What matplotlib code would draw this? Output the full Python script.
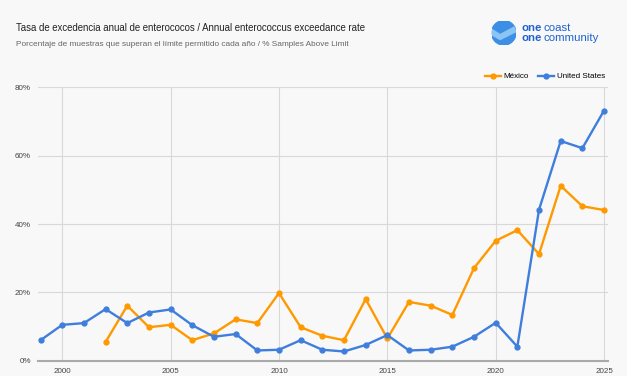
import numpy as np
import matplotlib.pyplot as plt
from matplotlib.patches import Circle, Polygon

years_us = list(range(1999, 2026))
us = [6.0, 10.5, 11.0, 15.1, 11.0, 14.1, 15.0, 10.4, 7.0, 7.8, 3.0, 3.2, 6.0,
      3.2, 2.7, 4.6, 7.5, 3.0, 3.2, 4.1, 7.0, 11.1, 4.1, 44.2, 64.3, 62.2, 73.2]

years_mx = list(range(2002, 2026))
mx = [5.5, 16.1, 9.8, 10.5, 6.0, 8.0, 12.1, 11.0, 19.8, 9.8, 7.3, 6.0, 18.0,
      6.5, 17.2, 16.1, 13.4, 27.1, 35.1, 38.2, 31.2, 51.2, 45.2, 44.1]

x_ticks = [2000, 2005, 2010, 2015, 2020, 2025]
y_ticks = [0, 20, 40, 60, 80]

orange = "#FF9900"
blue = "#3F7EDC"
bg = "#F8F8F8"

plt.rcParams["font.family"] = ["Liberation Sans", "DejaVu Sans"]

fig = plt.figure(figsize=(6.27, 3.76), dpi=100, facecolor=bg)
ax = fig.add_axes([0.0606, 0.0407, 0.909, 0.727], facecolor=bg)

ax.plot(years_mx, mx, color=orange, lw=1.7, marker="o", ms=3.5, label="México", zorder=3)
ax.plot(years_us, us, color=blue, lw=1.7, marker="o", ms=3.5, label="United States", zorder=3)

ax.set_xlim(1998.88, 2025.18)
ax.set_ylim(0, 80)
ax.set_xticks(x_ticks)
ax.set_yticks(y_ticks)
ax.set_yticklabels([f"{v}%" for v in y_ticks])
ax.grid(True, color="#D8D8D8", lw=0.8)
ax.set_axisbelow(True)
for s in ["top", "right", "left"]:
    ax.spines[s].set_visible(False)
ax.spines["bottom"].set_color("#AAAAAA")
ax.spines["bottom"].set_linewidth(1.5)
ax.tick_params(length=0, labelsize=5.8, labelcolor="#444444")
ax.tick_params(axis="x", pad=5)
ax.tick_params(axis="y", pad=5)

leg = ax.legend(loc="lower right", bbox_to_anchor=(1.005, 1.005), ncol=2, frameon=False,
                fontsize=5.8, handlelength=2.0, columnspacing=1.2, handletextpad=0.3,
                borderaxespad=0.3)

fig.text(0.0255, 0.925, "Tasa de excedencia anual de enterococos / Annual enterococcus exceedance rate",
         fontsize=6.9, color="#222222", va="center")
fig.text(0.0255, 0.882, "Porcentaje de muestras que superan el límite permitido cada año / % Samples Above Limit",
         fontsize=5.95, color="#666666", va="center")

# logo
lax = fig.add_axes([0.784, 0.880, 0.039, 0.0655])
lax.set_xlim(-1, 1)
lax.set_ylim(-1, 1)
lax.set_aspect("equal")
lax.axis("off")
circ = Circle((0, 0), 1, color="#3D8FE6")
lax.add_patch(circ)
wave = Polygon([[-1.0, 0.3], [-0.3, -0.15], [1.0, 0.55], [1.0, 0.1], [-0.3, -0.55], [-1.0, -0.15]],
               closed=True, color="#8CC4F5")
wave.set_clip_path(circ)
lax.add_patch(wave)

renderer = fig.canvas.get_renderer()
for yy, word in [(0.925, "coast"), (0.898, "community")]:
    t = fig.text(0.832, yy, "one", fontsize=8.2, color="#1E62D0", fontweight="bold", va="center")
    bb = t.get_window_extent(renderer).transformed(fig.transFigure.inverted())
    fig.text(bb.x1 + 0.002, yy, word, fontsize=8.2, color="#1E62D0", va="center")

fig.savefig("out.png", dpi=100, facecolor=bg)
